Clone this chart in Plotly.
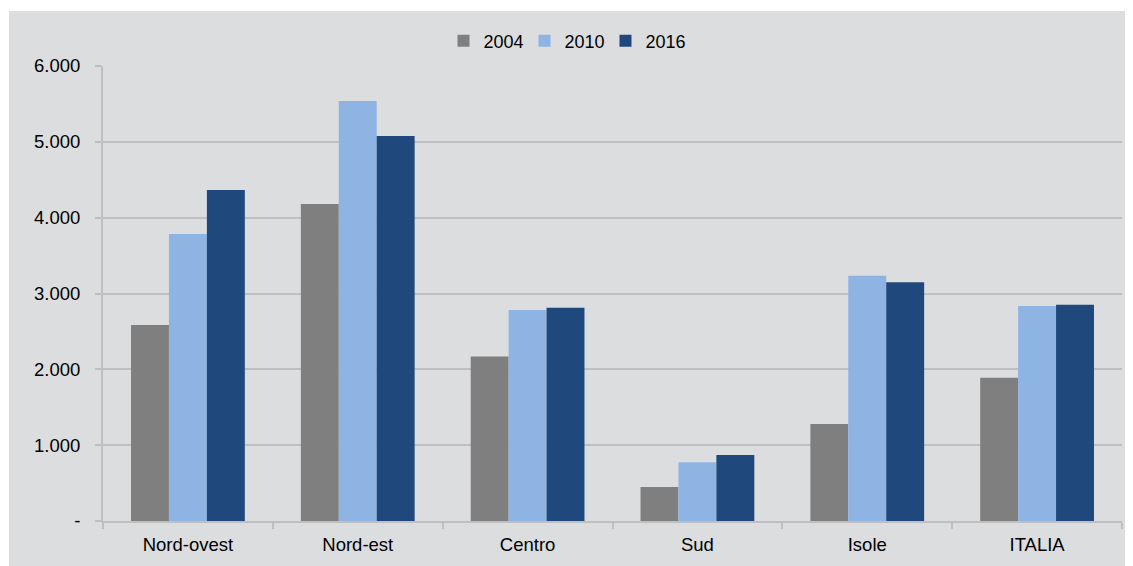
import plotly.graph_objects as go

categories = ["Nord-ovest", "Nord-est", "Centro", "Sud", "Isole", "ITALIA"]
years = ["2004", "2010", "2016"]
v2004 = [2585, 4180, 2170, 448, 1280, 1890]
v2010 = [3785, 5540, 2782, 774, 3235, 2835]
v2016 = [4365, 5077, 2813, 870, 3147, 2852]
colors = ["#7f7f7f", "#8eb4e3", "#1f497d"]
tick_vals = [0, 1000, 2000, 3000, 4000, 5000, 6000]
tick_text = ["-", "1.000", "2.000", "3.000", "4.000", "5.000", "6.000"]

W, H = 1133, 566
L, R, T, B = 95, 19, 58, 53
pw, ph = W - L - R, H - T - B

def px_x(p):
    return (p - L) / pw

def px_y(p):
    return (H - B - p) / ph

fig = go.Figure()
for name, vals, col in zip(years, [v2004, v2010, v2016], colors):
    fig.add_trace(go.Bar(name=name, x=categories, y=vals, marker_color=col,
                         marker_line_width=0))

bg = "#dcdddf"
grid = "#bfbfbf"
fig.update_layout(
    width=W, height=H,
    margin=dict(l=L, r=R, t=T, b=B, pad=0),
    paper_bgcolor=bg, plot_bgcolor=bg,
    font=dict(family="Liberation Sans, Arial, sans-serif", size=18, color="#000000"),
    barmode="group", bargap=0.33, bargroupgap=0,
    legend=dict(orientation="h", x=px_x(557), xanchor="center", y=px_y(33),
                yanchor="middle", bgcolor="rgba(0,0,0,0)", itemwidth=30,
                entrywidth=36, entrywidthmode="pixels",
                font=dict(size=18), traceorder="normal"),
    xaxis=dict(showline=True, linecolor=grid, linewidth=2, ticks="outside",
               tickson="boundaries", ticklen=6, tickcolor=grid, tickwidth=2,
               showgrid=False, tickfont=dict(size=18.5), ticklabelstandoff=6),
    yaxis=dict(range=[0, 6000], tickvals=tick_vals, ticktext=tick_text,
               showline=True, linecolor=grid, linewidth=2, ticks="outside",
               ticklen=6, tickcolor=grid, tickwidth=2, gridcolor=grid, gridwidth=2,
               zeroline=False, ticklabelstandoff=11, tickfont=dict(size=18.5)),
    shapes=[
        dict(type="rect", xref="paper", yref="paper", x0=px_x(0), x1=px_x(W),
             y0=px_y(3), y1=px_y(0), fillcolor="white", line_width=0, layer="above"),
        dict(type="rect", xref="paper", yref="paper", x0=px_x(0), x1=px_x(1),
             y0=px_y(H), y1=px_y(0), fillcolor="white", line_width=0, layer="above"),
    ],
)
fig.write_html("out.html")
